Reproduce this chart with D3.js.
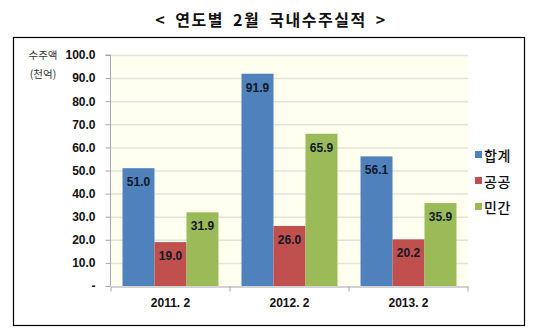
<!DOCTYPE html>
<html>
<head>
<meta charset="utf-8">
<script src="https://cdn.jsdelivr.net/npm/d3@7"></script>
<style>
  body { margin: 0; background: #fff; }
  svg { display: block; font-family: "Noto Sans CJK KR", "Liberation Sans", sans-serif; }
</style>
</head>
<body>
<svg id="chart" width="536" height="334"></svg>
<script>
const categories = ["2011. 2", "2012. 2", "2013. 2"]
const seriesNames = ["합계", "공공", "민간"]
const seriesColors = ["#4F81BD", "#C0504D", "#9BBB59"]
const total = [51.0, 91.9, 56.1]
const publicOrders = [19.0, 26.0, 20.2]
const privateOrders = [31.9, 65.9, 35.9]
const yTicks = [0, 10, 20, 30, 40, 50, 60, 70, 80, 90, 100]

const seriesValues = [total, publicOrders, privateOrders]

const svg = d3.select("#chart")

// title
svg.append("text")
  .attr("x", 271).attr("y", 26)
  .attr("text-anchor", "middle")
  .style("font-size", "16px").style("font-weight", "bold")
  .style("letter-spacing", "1.5px").style("word-spacing", "4px")
  .attr("fill", "#111")
  .text("<  연도별 2월 국내수주실적  >")

// outer frame
svg.append("rect")
  .attr("x", 13.5).attr("y", 37.5)
  .attr("width", 511).attr("height", 288)
  .attr("fill", "#fff").attr("stroke", "#000").attr("stroke-width", 1.2)

const plot = { left: 111, right: 468, top: 55, bottom: 286 }

const x = d3.scaleBand().domain(categories).range([plot.left, plot.right])
const xInner = d3.scaleBand().domain(seriesNames).range([0, x.bandwidth()]).paddingOuter(0.36).paddingInner(0)
const y = d3.scaleLinear().domain([0, 100]).range([plot.bottom, plot.top])

// plot background
svg.append("rect")
  .attr("x", plot.left + 1).attr("y", plot.top)
  .attr("width", plot.right - plot.left - 1).attr("height", plot.bottom - plot.top)
  .attr("fill", "#FFFFF0")

// gridlines
svg.append("g")
  .selectAll("line")
  .data(yTicks.filter(d => d > 0))
  .enter()
  .append("line")
    .attr("x1", plot.left).attr("x2", plot.right)
    .attr("y1", d => y(d) + 0.5).attr("y2", d => y(d) + 0.5)
    .attr("stroke", "#E3E3DC").attr("stroke-width", 1.5)

// y axis
const yAxis = svg.append("g")
  .attr("transform", `translate(${plot.left - 0.5},0)`)
  .call(d3.axisLeft(y).tickValues(yTicks).tickSize(5).tickPadding(10)
    .tickFormat(d => d === 0 ? "-" : d.toFixed(1)))
yAxis.select(".domain").attr("stroke", "#A6A6A6").attr("d", `M-5,${plot.top}H0V${plot.bottom}`)
yAxis.selectAll(".tick line").attr("stroke", "#A6A6A6")
yAxis.selectAll("text")
  .style("font-family", "'Liberation Sans', sans-serif")
  .style("font-size", "12px").style("font-weight", "bold").attr("fill", "#111")

// x axis
const xAxis = svg.append("g")
  .attr("transform", `translate(0,${plot.bottom + 0.5})`)
  .call(d3.axisBottom(x).tickSize(0).tickPadding(12))
xAxis.select(".domain").attr("stroke", "#A6A6A6")
xAxis.selectAll("text")
  .style("font-family", "'Liberation Sans', sans-serif")
  .style("font-size", "12px").style("font-weight", "bold").attr("fill", "#111")
xAxis.selectAll(".sep")
  .data(d3.range(categories.length + 1))
  .enter()
  .append("line")
    .attr("x1", i => plot.left + i * x.step()).attr("x2", i => plot.left + i * x.step())
    .attr("y1", 0).attr("y2", 5)
    .attr("stroke", "#A6A6A6")

// y axis title
svg.append("text").attr("x", 43).attr("y", 59).attr("text-anchor", "middle")
  .style("font-size", "10.5px").attr("fill", "#333").text("수주액")
svg.append("text").attr("x", 43).attr("y", 78).attr("text-anchor", "middle")
  .style("font-size", "10.5px").attr("fill", "#333").text("(천억)")

// bars
const bars = []
categories.forEach((c, i) => {
  seriesNames.forEach((s, j) => {
    bars.push({ category: c, series: s, value: seriesValues[j][i], color: seriesColors[j] })
  })
})

const barGroup = svg.append("g")
barGroup.selectAll("rect")
  .data(bars)
  .enter()
  .append("rect")
    .attr("x", d => x(d.category) + xInner(d.series))
    .attr("y", d => y(d.value))
    .attr("width", xInner.bandwidth())
    .attr("height", d => y(0) - y(d.value))
    .attr("fill", d => d.color)

barGroup.selectAll("text")
  .data(bars)
  .enter()
  .append("text")
    .attr("x", d => x(d.category) + xInner(d.series) + xInner.bandwidth() / 2)
    .attr("y", d => y(d.value) + 18)
    .attr("text-anchor", "middle")
    .style("font-family", "'Liberation Sans', sans-serif")
    .style("font-size", "12px").style("font-weight", "bold")
    .attr("fill", "#111827")
    .text(d => d.value.toFixed(1))

// legend
const legend = svg.append("g")
  .selectAll("g")
  .data(seriesNames)
  .enter()
  .append("g")
    .attr("transform", (d, i) => `translate(475,${155 + i * 26})`)
legend.append("rect")
  .attr("x", 0).attr("y", -4).attr("width", 7).attr("height", 7)
  .attr("fill", (d, i) => seriesColors[i])
legend.append("text")
  .attr("x", 9).attr("y", 5.5)
  .style("font-size", "14px").style("font-weight", "500")
  .style("letter-spacing", "0.5px").attr("fill", "#111")
  .text(d => d)
</script>
</body>
</html>
